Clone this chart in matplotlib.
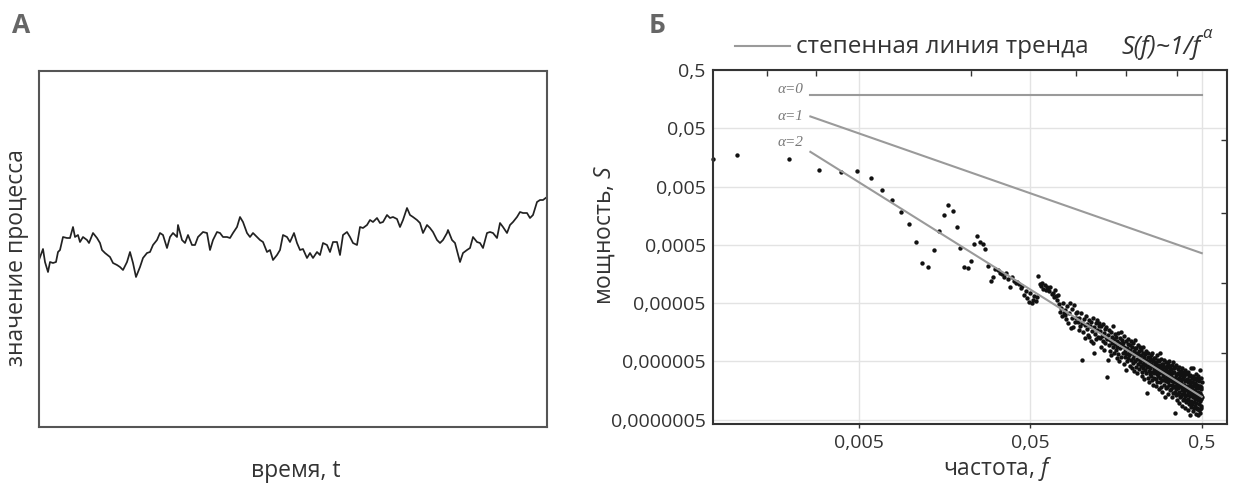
import numpy as np
import matplotlib
matplotlib.use('Agg')
import matplotlib.pyplot as plt
from matplotlib.lines import Line2D
from matplotlib.ticker import NullLocator

plt.rcParams['font.family'] = ['Open Sans', 'DejaVu Sans']
plt.rcParams['mathtext.fontset'] = 'custom'
plt.rcParams['mathtext.it'] = 'Open Sans:italic'
plt.rcParams['mathtext.rm'] = 'Open Sans'

# --- panel A: process trace (arbitrary units)
time_a = [0, 4, 6, 9, 11, 14, 17, 19, 21, 24, 28, 31,
          34, 36, 39, 41, 44, 48, 50, 54, 58, 61, 63, 66,
          71, 74, 78, 81, 84, 88, 91, 94, 97, 101, 104, 108,
          111, 114, 118, 121, 124, 128, 131, 134, 138, 139, 143, 146,
          149, 153, 156, 159, 164, 168, 171, 174, 178, 181, 184, 188,
          191, 194, 198, 201, 204, 208, 211, 214, 218, 221, 224, 228,
          231, 234, 238, 241, 244, 248, 251, 255, 258, 261, 264, 268,
          271, 274, 278, 281, 284, 288, 291, 294, 298, 301, 304, 308,
          311, 314, 318, 321, 324, 328, 331, 334, 338, 341, 344, 348,
          351, 354, 358, 361, 364, 368, 371, 374, 378, 381, 384, 388,
          391, 394, 398, 401, 404, 408, 409, 413, 416, 421, 424, 428,
          431, 434, 438, 441, 444, 448, 451, 454, 458, 461, 464, 468,
          471, 474, 478, 481, 484, 488, 491, 494, 498, 501, 504, 508]
value_a = [167, 178, 165, 155, 165, 164, 165, 175, 177, 190, 189, 189,
           200, 190, 192, 185, 190, 187, 184, 194, 189, 184, 177, 174,
           170, 164, 162, 160, 157, 165, 175, 164, 150, 160, 169, 174,
           175, 182, 187, 194, 192, 179, 190, 194, 190, 202, 187, 184,
           192, 182, 182, 190, 195, 194, 177, 187, 195, 194, 190, 190,
           189, 194, 200, 210, 205, 194, 190, 194, 190, 187, 185, 175,
           177, 167, 172, 177, 192, 190, 185, 194, 184, 177, 178, 169,
           174, 169, 175, 172, 184, 182, 175, 185, 185, 172, 192, 195,
           190, 184, 182, 200, 199, 202, 207, 205, 209, 204, 205, 212,
           209, 210, 208, 200, 207, 219, 212, 210, 207, 204, 194, 202,
           199, 195, 187, 184, 187, 194, 197, 187, 184, 165, 174, 177,
           179, 190, 185, 184, 179, 194, 195, 194, 189, 204, 200, 194,
           202, 205, 210, 215, 214, 214, 209, 212, 225, 227, 227, 230]

# --- panel B: power spectrum, log10 of power for bins k = 1..512 (N = 1024)
n_fft = 1024
edge_freq = 0.0007
edge_log_power = -1.82
log_power = [
    -1.76, -1.82, -2.01, -2.05, -2.04, -2.16, -2.36, -2.54, -2.73, -2.94, -3.26, -3.61, -3.69, -3.39, -3.07, -2.79,
    -2.62, -2.72, -2.99, -3.36, -3.69, -3.70, -3.58, -3.29, -3.15, -3.26, -3.29, -3.38, -3.66, -3.92, -3.85, -3.72,
    -3.74, -3.78, -3.80, -3.85, -3.78, -3.88, -4.02, -3.85, -3.93, -3.96, -3.94, -3.98, -4.05, -4.00, -4.16, -4.10,
    -4.22, -4.28, -4.12, -4.30, -4.25, -4.18, -4.27, -4.20, -3.83, -3.97, -4.00, -3.95, -4.06, -3.99, -4.08, -4.02,
    -4.05, -4.10, -4.02, -4.15, -4.12, -4.20, -4.08, -4.18, -4.25, -4.16, -4.32, -4.45, -4.38, -4.52, -4.30, -4.48,
    -4.50, -4.42, -4.58, -4.35, -4.64, -4.47, -4.30, -4.73, -4.55, -4.40, -4.71, -4.33, -4.62, -4.48, -4.56, -4.45,
    -4.62, -4.76, -4.55, -4.70, -4.48, -5.28, -4.64, -4.80, -4.58, -4.68, -4.90, -4.52, -4.74, -4.66, -4.85, -4.60,
    -4.88, -4.70, -4.62, -4.95, -4.78, -4.56, -4.99, -5.15, -4.72, -4.84, -4.65, -4.92, -4.76, -4.60, -4.88, -4.70,
    -4.64, -4.90, -4.78, -5.05, -4.70, -4.86, -4.95, -4.66, -5.10, -4.82, -4.74, -4.98, -4.88, -4.72, -5.57, -4.92,
    -5.28, -4.85, -5.02, -4.76, -5.12, -4.94, -4.80, -5.20, -4.98, -4.88, -5.06, -4.70, -5.15, -4.92, -5.00, -4.84,
    -5.10, -4.88, -5.25, -4.95, -5.05, -4.82, -5.18, -4.98, -5.30, -4.90, -5.08, -5.00, -4.80, -5.22, -5.04, -4.93,
    -5.15, -4.98, -5.35, -5.05, -4.86, -5.22, -5.12, -5.45, -4.95, -5.18, -5.08, -5.30, -5.00, -5.25, -4.92, -5.14,
    -5.20, -5.02, -5.38, -5.10, -4.96, -5.28, -5.16, -5.42, -5.05, -5.24, -4.98, -5.33, -5.12, -5.20, -5.46, -5.08,
    -4.94, -5.30, -5.15, -5.40, -5.08, -5.26, -5.50, -5.18, -5.02, -5.35, -5.22, -5.12, -5.44, -5.28, -5.05, -5.32,
    -5.20, -5.38, -5.10, -5.48, -5.26, -5.55, -5.15, -5.34, -5.42, -5.05, -5.30, -5.60, -5.22, -5.36, -5.18, -5.45,
    -5.28, -5.50, -5.12, -5.40, -5.84, -5.32, -5.22, -5.58, -5.38, -5.15, -5.46, -5.30, -5.65, -5.25, -5.52, -5.36,
    -5.42, -5.20, -5.55, -5.35, -5.62, -5.28, -5.48, -5.15, -5.38, -5.70, -5.30, -5.50, -5.24, -5.44, -5.58, -5.33,
    -5.46, -5.25, -5.60, -5.38, -5.72, -5.32, -5.52, -5.20, -5.44, -5.66, -5.36, -5.55, -5.28, -5.48, -5.78, -5.40,
    -5.50, -5.30, -5.65, -5.42, -5.16, -5.58, -5.36, -5.75, -5.48, -5.26, -5.62, -5.44, -5.82, -5.34, -5.55, -5.40,
    -5.52, -5.35, -5.70, -5.46, -5.28, -5.62, -5.92, -5.40, -5.58, -5.50, -5.32, -5.76, -5.45, -5.64, -5.38, -5.55,
    -5.58, -5.40, -5.74, -5.50, -5.34, -5.66, -5.86, -5.46, -5.60, -5.30, -5.70, -5.52, -5.44, -5.80, -5.56, -5.38,
    -5.62, -5.44, -5.78, -5.55, -5.36, -5.70, -5.92, -5.50, -5.64, -5.32, -5.74, -5.58, -5.48, -5.84, -5.60, -5.42,
    -5.66, -5.48, -5.82, -5.58, -5.40, -6.19, -5.72, -5.54, -5.88, -5.64, -5.36, -5.78, -5.60, -5.96, -5.52, -5.70,
    -5.68, -5.50, -5.86, -5.62, -5.44, -5.76, -6.02, -5.58, -5.72, -5.40, -5.82, -5.66, -5.54, -5.92, -5.70, -5.48,
    -5.72, -5.54, -5.90, -5.66, -5.46, -5.80, -6.06, -5.60, -5.76, -5.42, -5.86, -5.70, -5.58, -5.96, -5.74, -5.50,
    -5.76, -5.56, -5.94, -5.70, -5.48, -5.84, -6.10, -5.64, -5.80, -5.45, -5.90, -5.74, -5.62, -6.00, -5.78, -5.52,
    -5.78, -5.60, -5.96, -5.72, -5.50, -5.88, -6.14, -5.66, -5.82, -5.48, -5.94, -5.76, -5.64, -6.04, -5.80, -5.55,
    -5.82, -5.62, -6.00, -5.76, -5.54, -5.90, -6.22, -5.70, -5.86, -5.42, -5.98, -5.80, -5.66, -6.08, -5.84, -5.58,
    -5.84, -5.66, -6.04, -5.78, -5.42, -5.92, -6.16, -5.72, -5.88, -5.56, -6.00, -5.82, -5.68, -6.10, -5.86, -5.60,
    -5.86, -5.68, -6.06, -5.80, -5.58, -5.94, -6.20, -5.74, -5.90, -5.52, -6.02, -5.84, -5.70, -6.12, -5.88, -5.62,
    -5.90, -5.70, -6.10, -5.82, -5.60, -5.96, -6.22, -5.76, -5.92, -5.55, -6.04, -5.86, -5.72, -6.14, -5.90, -5.64,
    -5.92, -5.72, -6.12, -5.84, -5.45, -5.98, -6.18, -5.78, -5.94, -5.58, -6.06, -5.88, -5.74, -6.10, -5.92, -5.66,
]

# power-law trend lines S(f) ~ 1/f^alpha (start/end values)
trend_labels = ['α=0', 'α=1', 'α=2']
trend_freq = [0.0026, 0.5]
trend_start = [0.188, 0.0798, 0.0197]
trend_end = [0.188, 3.59e-4, 1.23e-6]

x_ticks = [0.005, 0.05, 0.5]
x_tick_labels = ['0,005', '0,05', '0,5']
y_ticks = [5e-7, 5e-6, 5e-5, 5e-4, 5e-3, 5e-2, 0.5]
y_tick_labels = ['0,0000005', '0,000005', '0,00005', '0,0005', '0,005', '0,05', '0,5']
right_marks = [10 ** -1.5, 10 ** -2.75, 10 ** -3.96, 10 ** -5.16]
top_marks = [0.00146, 0.0028, 0.0224, 0.092, 0.181, 0.357]

W, H = 1233, 484
def fx(x):
    return x / W
def fy(y):
    return 1 - y / H

txt = '#333333'
fig = plt.figure(figsize=(W / 100, H / 100), dpi=100)

# ---------------- A
axA = fig.add_axes([fx(39), fy(427), (547 - 39) / W, (427 - 71) / H])
axA.plot(time_a, value_a, color='#222222', lw=1.25)
axA.set_xlim(0, 508)
axA.set_ylim(0, 356)
axA.set_xticks([])
axA.set_yticks([])
for s in axA.spines.values():
    s.set_color('#555555')
    s.set_linewidth(1.5)

fig.text(fx(12), fy(33), 'А', fontsize=19, fontweight='bold', color='#666666', va='baseline')
fig.text(fx(17), fy(258), 'значение процесса', rotation=90, ha='center', va='center',
         fontsize=16.5, color=txt)
fig.text(fx(296), fy(471), 'время, t', ha='center', va='center', fontsize=16.5, color=txt)

# ---------------- Б
axB = fig.add_axes([fx(712.7), fy(424), (1226.8 - 712.7) / W, (424 - 70) / H])
freq = np.concatenate([[edge_freq], np.arange(1, len(log_power) + 1) / n_fft])
power = 10 ** np.concatenate([[edge_log_power], log_power])
axB.scatter(freq, power, s=10, c='#111111', lw=0, zorder=2, clip_on=False)

for p0, p1 in zip(trend_start, trend_end):
    axB.plot(trend_freq, [p0, p1], color='#9a9a9a', lw=1.5, zorder=3)

label_offsets = [(-5, 4), (-5, 0), (-5, 7)]
for lab, p0, off in zip(trend_labels, trend_start, label_offsets):
    axB.annotate(lab, (trend_freq[0], p0), xytext=off, textcoords='offset points',
                 ha='right', va='center', fontsize=11, color='#777777',
                 family='Liberation Serif', style='italic')

axB.set_xscale('log')
axB.set_yscale('log')
axB.set_xlim(0.0007, 0.7)
axB.set_ylim(4.2e-7, 0.5)
axB.set_xticks(x_ticks)
axB.set_xticklabels(x_tick_labels)
axB.set_yticks(y_ticks)
axB.set_yticklabels(y_tick_labels)
axB.minorticks_off()
axB.grid(True, color='#e3e3e3', lw=1)
axB.set_axisbelow(True)
axB.tick_params(axis='x', length=3, width=1, color=txt, labelsize=14,
                labelcolor=txt, pad=4)
axB.tick_params(axis='y', length=0, labelsize=14, labelcolor=txt, pad=5)
for s in axB.spines.values():
    s.set_color('#333333')
    s.set_linewidth(1.5)

sec_r = axB.secondary_yaxis('right')
sec_r.set_yticks(right_marks)
sec_r.yaxis.set_minor_locator(NullLocator())
sec_r.tick_params(which='both', direction='in', length=4, width=1, color=txt, labelright=False)
sec_r.spines['right'].set_visible(False)
sec_t = axB.secondary_xaxis('top')
sec_t.set_xticks(top_marks)
sec_t.xaxis.set_minor_locator(NullLocator())
sec_t.tick_params(which='both', direction='in', length=4, width=1, color=txt, labeltop=False)
sec_t.spines['top'].set_visible(False)

fig.text(fx(649), fy(33), 'Б', fontsize=19, fontweight='bold', color='#666666', va='baseline')
fig.text(fx(605), fy(235), 'мощность, $S$', rotation=90, ha='center', va='center',
         fontsize=16.5, color=txt)
fig.text(fx(998), fy(469), 'частота, $f$', ha='center', va='center', fontsize=16.5, color=txt)

# legend on top
fig.add_artist(Line2D([fx(735), fx(790)], [fy(46), fy(46)], color='#9a9a9a', lw=1.5))
fig.text(fx(796), fy(47), 'степенная линия тренда', ha='left', va='center', fontsize=17.5,
         color=txt)
law = fig.text(fx(1122), fy(54), 'S(f)~1/f', ha='left', va='baseline', fontsize=18,
               style='italic', color=txt)
law_end = law.get_window_extent(renderer=fig.canvas.get_renderer()).x1
fig.text((law_end + 1) / W, fy(38), 'α', ha='left', va='baseline', fontsize=12,
         style='italic', color=txt)

fig.savefig('out.png', dpi=100)
